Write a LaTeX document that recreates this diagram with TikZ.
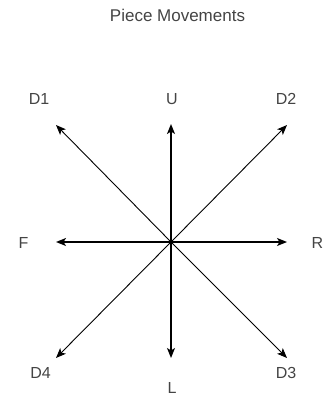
\documentclass[tikz,border=0pt]{standalone}
\usepackage{fontspec}
\setmainfont{Liberation Sans}
\usetikzlibrary{arrows.meta}
\definecolor{txt}{RGB}{68,68,68}
\tikzset{
  lbl/.style={text=txt, inner sep=0pt, font=\fontsize{16}{18}\selectfont},
  axis/.style={line width=1.4pt, -{Stealth[length=10pt,width=8pt,inset=2.5pt]}},
  diag/.style={line width=0.9pt, -{Stealth[length=10pt,width=8pt,inset=2.5pt]}}
}
\begin{document}
\begin{tikzpicture}[x=1pt,y=-1pt]
\useasboundingbox (0,0) rectangle (327,396);
\node[lbl, font=\fontsize{17}{19}\selectfont] (title) at (177.5,15) {Piece Movements};
\coordinate (c) at (171,242);
\coordinate (tu) at (171,124);
\coordinate (tl) at (171,358);
\coordinate (tf) at (56,242);
\coordinate (tr) at (287,242);
\coordinate (t1) at (56,125);
\coordinate (t2) at (287,125);
\coordinate (t3) at (287,358);
\coordinate (t4) at (56,358);
\draw[axis] (c) -- (tu);
\draw[axis] (c) -- (tl);
\draw[axis] (c) -- (tf);
\draw[axis] (c) -- (tr);
\draw[diag] (c) -- (t1);
\draw[diag] (c) -- (t2);
\draw[diag] (c) -- (t3);
\draw[diag] (c) -- (t4);
\fill (c) circle (1.8);
\node[lbl] (d1) at (39,99) {D1};
\node[lbl] (u) at (172,99) {U};
\node[lbl] (d2) at (286,99) {D2};
\node[lbl] (f) at (23.5,243) {F};
\node[lbl] (r) at (317.5,243) {R};
\node[lbl] (d4) at (40.5,373) {D4};
\node[lbl] (l) at (172,388) {L};
\node[lbl] (d3) at (286,373) {D3};
\end{tikzpicture}
\end{document}
